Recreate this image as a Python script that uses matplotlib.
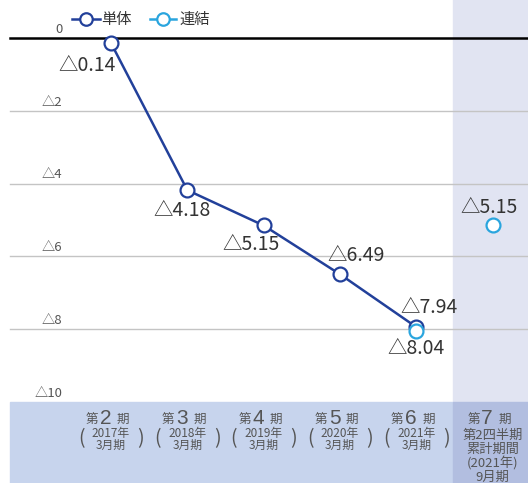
import matplotlib
matplotlib.use("Agg")
import matplotlib.pyplot as plt
from matplotlib.patches import Rectangle

plt.rcParams['font.family'] = ['Noto Sans CJK JP', 'DejaVu Sans']

# periods (x positions 0..5)
period_nums = ["2", "3", "4", "5", "6", "7"]
period_years = ["2017年", "2018年", "2019年", "2020年", "2021年"]
period_months = ["3月期", "3月期", "3月期", "3月期", "3月期"]
last_lines = ["第2四半期", "累計期間", "(2021年)", "9月期"]

# 単体 (non-consolidated)
tantai_x = [0, 1, 2, 3, 4]
tantai_y = [-0.14, -4.18, -5.15, -6.49, -7.94]
tantai_labels = ["△0.14", "△4.18", "△5.15", "△6.49", "△7.94"]

# 連結 (consolidated)
renketsu_x = [4, 5]
renketsu_y = [-8.04, -5.15]
renketsu_labels = ["△8.04", "△5.15"]

y_ticks = [0, -2, -4, -6, -8, -10]
y_ticklabels = ["0", "△2", "△4", "△6", "△8", "△10"]

DARK = "#22409a"
LIGHT = "#2aa5de"
TXT = "#555555"

fig = plt.figure(figsize=(5.28, 4.83), dpi=100)
ax = fig.add_axes([0, 0, 1, 1])
ax.set_xlim(-1.455, 5.465)
ax.set_ylim(-12.225, 1.044)
ax.axis("off")

x_left = -1.324
x_right = 5.465

# shaded 7th column and bottom band
ax.add_patch(Rectangle((4.48, -10), 1.0, 12, color="#e1e4f2", zorder=0))
ax.add_patch(Rectangle((x_left, -13), 4.48 - x_left, 3, color="#c7d4ed", zorder=0))
ax.add_patch(Rectangle((4.48, -13), 1.0, 3, color="#b2bee0", zorder=0))

# grid
for yv, lab in zip(y_ticks, y_ticklabels):
    if yv == 0:
        ax.plot([x_left, x_right], [0, 0], color="black", lw=1.8, zorder=1)
    elif yv > -10:
        ax.plot([x_left, x_right], [yv, yv], color="#c4c4c4", lw=1.0, zorder=1)
    ax.text(-0.64, yv + 0.24, lab, ha="right", va="center", fontsize=9.5, color=TXT)

ax.plot(tantai_x, tantai_y, color=DARK, lw=1.8, marker="o", markersize=10,
        markerfacecolor="white", markeredgewidth=1.6, zorder=3)
ax.plot(renketsu_x, renketsu_y, color=LIGHT, lw=0, marker="o", markersize=10,
        markerfacecolor="white", markeredgewidth=1.6, zorder=4)

# data labels
tantai_off = [(-0.31, -0.62), (-0.07, -0.55), (-0.16, -0.52), (0.21, 0.52), (0.17, 0.55)]
for x, y, lab, (dx, dy) in zip(tantai_x, tantai_y, tantai_labels, tantai_off):
    ax.text(x + dx, y + dy, lab, ha="center", va="center", fontsize=14, color="#333333")
renketsu_off = [(0.0, -0.5), (-0.04, 0.5)]
for x, y, lab, (dx, dy) in zip(renketsu_x, renketsu_y, renketsu_labels, renketsu_off):
    ax.text(x + dx, y + dy, lab, ha="center", va="center", fontsize=14, color="#333333")

# legend
ax.plot([-0.511, -0.144], [0.52, 0.52], color=DARK, lw=1.8)
ax.plot([-0.328], [0.52], marker="o", markersize=9, markerfacecolor="white",
        markeredgecolor=DARK, markeredgewidth=1.6)
ax.text(-0.13, 0.52, "単体", ha="left", va="center", fontsize=11, color="#333333")
ax.plot([0.511, 0.852], [0.52, 0.52], color=LIGHT, lw=1.8)
ax.plot([0.68], [0.52], marker="o", markersize=9, markerfacecolor="white",
        markeredgecolor=LIGHT, markeredgewidth=1.6)
ax.text(0.9, 0.52, "連結", ha="left", va="center", fontsize=11, color="#333333")

# category labels
for i, num in enumerate(period_nums):
    ax.text(i - 0.07, -10.45, num, ha="center", va="center", fontsize=15,
            family="Liberation Sans", color=TXT)
    ax.text(i - 0.25, -10.47, "第", ha="center", va="center", fontsize=9, color=TXT)
    ax.text(i + 0.16, -10.47, "期", ha="center", va="center", fontsize=9, color=TXT)
for i, (yr, mo) in enumerate(zip(period_years, period_months)):
    ax.text(i, -11.03, yr + "\n" + mo, ha="center", va="center", fontsize=8.5,
            linespacing=0.9, color=TXT)
    ax.text(i - 0.39, -11.0, "(", ha="center", va="center", fontsize=14, color=TXT)
    ax.text(i + 0.39, -11.0, ")", ha="center", va="center", fontsize=14, color=TXT)
ax.text(5, -11.5, "\n".join(last_lines), ha="center", va="center", fontsize=9.5,
        linespacing=1.08, color=TXT)

fig.savefig("out.png", dpi=100)
